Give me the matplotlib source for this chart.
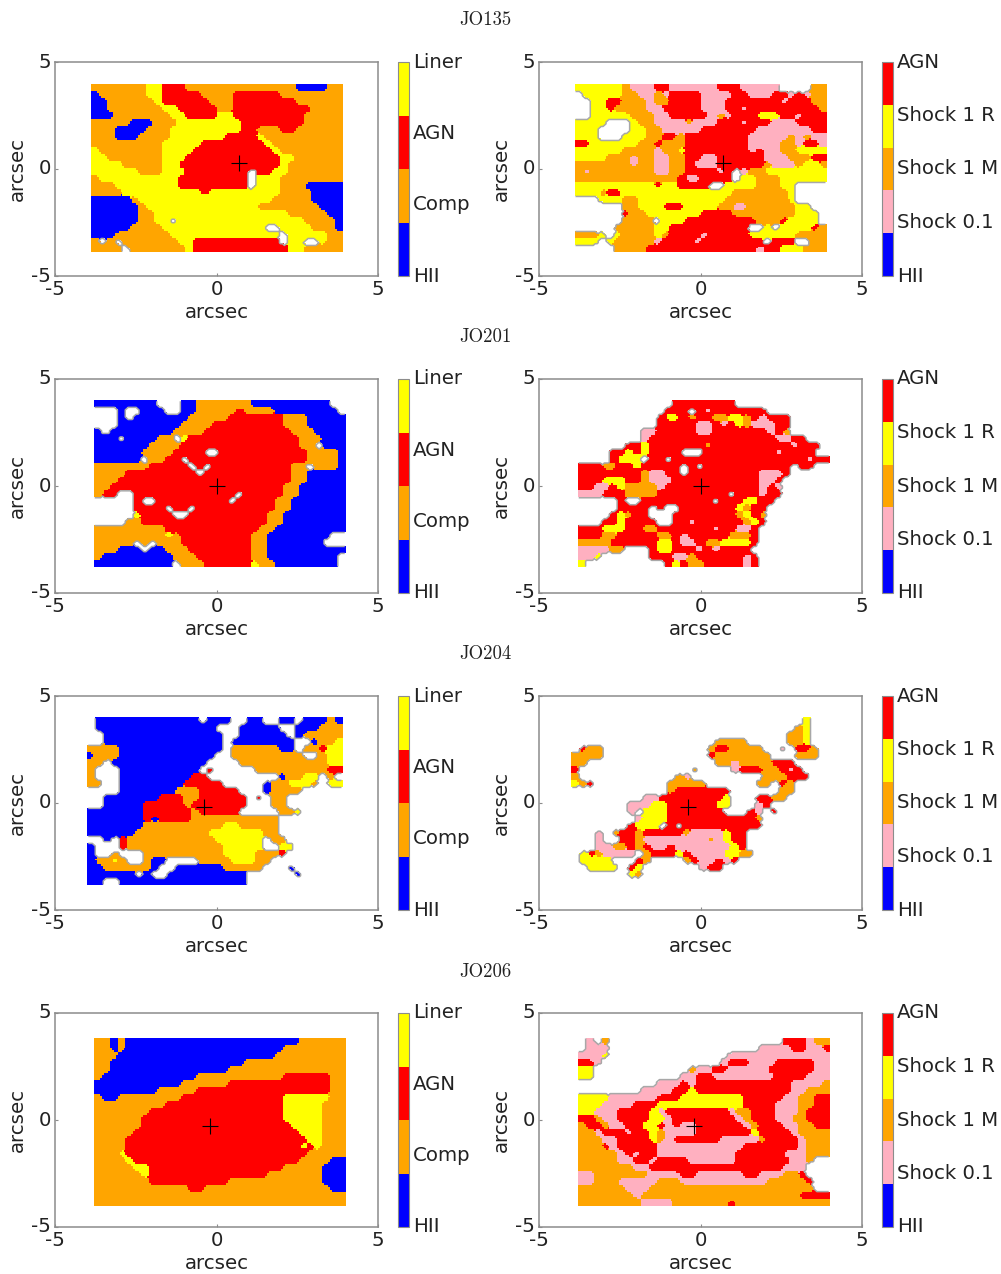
import numpy as np
import matplotlib
matplotlib.use("Agg")
import matplotlib.pyplot as plt
from matplotlib.colors import ListedColormap, Normalize
from matplotlib.cm import ScalarMappable
from matplotlib.transforms import ScaledTranslation

galaxies = ["JO135", "JO201", "JO204", "JO206"]
left_labels = ["HII", "Comp", "AGN", "Liner"]
right_labels = ["HII", "Shock 0.1", "Shock 1 M", "Shock 1 R", "AGN"]
left_colors = ["#0000FF", "#FFA500", "#FF0000", "#FFFF00"]
right_colors = ["#0000FF", "#FFB0C0", "#FFA500", "#FFFF00", "#FF0000"]
left_codes = {"B": 0, "O": 1, "R": 2, "Y": 3}
right_codes = {"B": 0, "P": 1, "O": 2, "Y": 3, "R": 4}
extents = [(-3.9, 3.9, -3.9, 3.95), (-3.8, 4.0, -3.8, 4.0), (-4.0, 3.9, -3.85, 4.0), (-3.8, 4.0, -4.0, 3.85)]
centres = [(0.7, 0.3), (0.0, 0.0), (-0.4, -0.2), (-0.2, -0.3)]

jo135_bpt = [
"OOOOOOOYYRRROOOOOOOOOOOOOOBBBBOO","BOOOOOOYYRRRRROOOORRRRRROOOOOOOO","BBOOOOOOYRRRRRROOORRRRRRRROOOOOO",
"BBOOOOOOOYYRRRRROORRRRRRRRRROOOO","BBBOOOOOOOYYRRRRYYRRRRRRRRROOOOO","OOOOOBBBOOOYYYYYYYYRRRRRRRROOOOO",
"OOOBBBBOOOYYYYYYYYYRROOORROOOOOO","OOOBBBOOOOYYYYYYYRRRRYOOOOOOOOOO","OOOOOOOOOYYYYYRRRRRRRRYOOOOOOOOO",
"YOOOOOOOOYYYYRRRRRRRRRRYOOOOOOOO","YYOOOOOOOYYYRRRRRRRRRRRRYYOOOOOO","YYYYOOOOOYYRRRRRRRRRRRRRYOOOOOOO",
"YYYYYYOOOYYYRRRRRRRR.RRYYOOOOOOO","OYYYYYYYYYYRRRRRRRRR.YYYOOOOOOOO","OOOYYYYYYYYRRRRRRRRR.YYYOOOBBBBB",
"OOOOYYYYYYYYYYRYYYYYYYYYOOOOBBBB","BBBBBOYYYYYYYYYYYYYYYYYOOOOOBBBB","BBBBBBOYYYYYYYYYYYYYYOOOOOOOOBBB",
"BBBBBBOOYYYYYYYYYYYYYYYYYOOOOOBB","BBBBBBOOYY.YYYYYYYYYYYYYYYYOOOOB","BBBBBOOOOYYYYYYYYYYYYY..YYYYOOOB",
"BBBOOOOOOOYYYYYYYYYYYYYY.YYYYYOO","O.O.OOOOOOOYYRRRRRRRRRRR.YY..YOO","OOOO.OOOOOOOYRRRRRRRRRRRRYYOOOOO",
]
jo135_shock = [
"YYYYYYOPPPRRPPPPPPRRRPPPPP....OO",".YYYYYOOPPOPRRRRPPPPRRPPPRRPRPOO","..YYRROOOPOORRRRPPPRRRRRRRPRRROO",
"..YYROOOOPPRRRRRPPPRRPRRRRRRRRRO","..YYYYYOOOPPRRRRRPOPRRRYYYRRPRRR","YYYY...YOOPPPPOPPPRRRPRRRPPPRRRR",
"YYY....YYOOPPPPPRRRRRRRPPPPPPPRR","YYY...YYYOORRORRRRRRRRPPPPPOPOPP","RRYYYYYYOOROOORRRRRRRRPPPPOOPRRP",
"YYYYYYOOOOPOOYRRRRRRRRPRPPOOYYYY","YYYYOOOPOOPPOORRPPRRRRRRPPPOOORR","OOOOOOOPOOPPOORPPPRRRRRROPPPOYYO",
"OPOOOOOOOOPPOORRRRPR.POOYYYYYYYY","OOOOOOOOOOOOORPPRRRR.YYOOOYYYYYY","YYYYYYYYYYRYYRRRR..YYYYOOOYY....",
"YYYORRYYYYYYYYYYYYYYOOOOOOOY....","...YYYOOYYYYYYYYYYYOOOOOOOOY....","......OOYYYRRRYYYYOOPPOOOOOOYY..",
"......ROOYYYYYYYRRRROOOOOOOOYYY.","......OOOO.YYYRRRRRRRRROOORYYYY.",".....OOOOOYYRRRRRRRRRR..Y.YYYYRO",
"OOOY.YOOOOYORRRRPRRRRRYYYYYYOOOO","YYY.YOOOOOPRRRRPRRRRRRRR.RRR..OO",".....OOOORRRRRRRRRRRRRRPRRYYYOOO",
]
jo201_bpt = [
"BBBBBBBB...BBOOOOOOOBBBBBBBBBB..","...B..BBB..BBOOOOOROOOOBBBBBBBB.","...B.BBBBBBBOOOOORRRRRRROOOBBBBB",
"...BBBBBBBBOOOORRRRRRRRROOOBBBBB","B.BBBBBBBBOOOORRRRRRRRRRROOOBBBB","BBB.BBBBOO.YRRRRRRRRRRRRRROOOBBB",
"BBBBBBBOOOORRRRRRRRRRRRRRROO.BBB","BBBBBBOOOORRRR..RRRRRRRRRRROOOOB","BBBBBB.OORR.RRRRRRRRRRRRRRROOOOB",
"OOOOOOORRRRR.R.RRRRRRRRRROO.OOOB","OOOORRRRRRRRR.RRRRRRRRRRROOBBBBB","OOORRRRRRRRRRRRRRRRRRRRRROOBBBBB",
"OORRRRRRRRRRRRRRRRRRRRRROOBBBBBB","ORR..RRRRRRRRRRRRR.RRRRROOBBBBBB",".....R..RRRRRRRRR.RRRRROOBBBBBBB",
".....RRRR.RR.RRRRRRRRRROOBBBBBBB",".....YRRRR..RRRRRRRRRROOBBBBBBBB","....OORRRRRRRRRRRRRRRROOBBBBBBBB",
"OOOOOOOOORRRRRRRRRRRROOBBBBBBBBB","OOOOOOOOOYORRRRRRRRROOBBBBBBBB..","OOOOO.O.OOORRRRRRRRROOBBBBBBB...",
"OOOBBB.BBOOORRRRRRRROOBBBBBBBBBB","OBBBBBBBBBOOORRRRRRROOBBBBBBBBB.","BBBBBBBBBB.OOORRRRRRYOOBBBBBBBB.",
]
jo201_shock = [
"............RRRRRRRR............","...........RRR.RPRRRRRRR........","..........RYYRORROOYYORPRRR.....",
"..........RRRRRPPRPRYOPPPRR.....","........PPRRRRRPPRRRRRRRPRO.....","........PRRRRRRRRRRRRRRRRPPRR...",
"......RRYRRRRRRRORRRRRRRRRRPRRR.","....RRYRYRRRR...RRRRRRRRRPRRRR..","....RYYY.RR.RRRRRRRRRRRRRRRRRPRR",
"RRROORRYRRRRR.R.RRRRRRRRRRR.RR..","RRRRRRRROPPRR.RRRRRRRRRPPPR.....","RRRYYYRROPPPRRRRRRRRRRRPPR......",
"RRPPRYOOOOPRRRRRRRRRRRRPRP......","PPPRRROOOORRRRRRRRR.RRRPRR......",".....R..RRRRRRRRR.RRRYYRR.......",
".....RRRR.R..RRRRRRRYORR........","....RYORR...RRRRRRRROYRO........","...RRYRRRR..RRPRRRRRROYR.........",
"RRRYYYRROORRRRRRRPRRPPR.........","RRROORRRRROORPRRRRROOOR.........","OOOORRRRRRYYRPPROOYYYYR.........",
"PPPPOO...RYYRRRPRPRRRR..........","PPY......RRRPPORRRRRRPR.........","Y..........RYROORRRRRPR.........",
]
jo204_bpt = [
".BBBBBBBBBBBBB.BBB..BB..BB.BBBOB",".BBBBBBBBBBBBBBB...BBBBB..BBBOOO","..BBBBBBBBBBBBBBB..BBBBBB.BOOOOO",
"..BBBBBBBBBBBBBBB.BBBBBBBB..BOOY","OOOOBBBBBBBBBBBBB.OOOOOOBB.OORYY","BOOOBBBBBBBBBBBB..OOOOOOOOO..OYY",
"OO.BBBBBBBBBBBB....OOOOOOOOOOOYY","O...BBBBBBBBBB.R.....OOOOOOOOORR","O...BBBBBBBBBRR.........BOOYY.O.",
"OO..BBBBBBBBRRRRR.....BOOYYYO.YY","....BBBBBBBOOORRRRR...BOOOO.....","..BBBBBBBRRROORRRRRR.R.OO.......",
"..BBBBBRRRRRORRRRRRR...OO.......","BBBBBBBRRRRRRORRRRR.....OOY.....","BBBBBBBRBRRRROOOOOOOOOOO........",
"BBBBBBBOOOOOOOOOOYYOOOOO........","BBBBBBOOOOOOOOOYYYYYYYOO........","..B.ROOOOOOOOOOOYYYYYY.OO.......",
"B...ROOOOOOOOOOOOYYYYY..YY......","B..O...OOOOOOOOOOYYYYOOOR.......","BOOYO..OBB....OOOOYYYOO.........",
"BBOOOOOOB..BBBBBBOOOOO...B......","BBBBBB.B..BBBBBBBBBB......B.....","BB..BBBBBBBBBBBBBBBB............",
]
jo204_shock = [
".............................Y..","............................OY..","...........................OOY..",
"..................OOOO.....OOY..",".ROO.............ORROOOO..P.RRO.","OOOO.............ROOOOOOO...OOO.",
"OO................OOPOOOORRR....","R..............O....PRRROORPR....","O............OP.........OOORRR..",
"YOR.........OOOOO......OO.RO....","............ORRRRRRR......OO....",".........PPRRRRRRRRY...RROO.....",
".......PPPYYRRRRRRYY...PR.......",".......P.YYYRRRRRRR...RP.R......","........PYYYRRRRRRRRRRRO........",
".......RYYY.R.RRRRRRRRRR........","...P.ORRORRRRROPPPPYRR..........","...P..RROPPPPPPPPOPYRR..........",
"...PPOORORPPRPPPPPPPYR..........",".YROPPPP.ORRRYRPPPPYYOO.........",".YYYY...RO....ORPPRPR...........",
"..YYYY.RY.......PRR.............",".......YO.......................","................................",
]
jo206_bpt = [
"OOBOBBBBBBBBBBBBBBBBBBBBBBOOOOOO","OOBOBBBBBBBBBBBBBBBBBBBBOOOOOOOO","OOOBBBBBBBBBBBBBBBBBBBBOOOOOOOOO",
"OOBBBBBBBBBBBBBBBBBOOOOOOOOOOOOO","OOBBBBBBBBBBBBBBBOOOOOOOOOOOOOOO","OBBBBBBBBBBBBOOOOOOOOOOORRRRRROO",
"BBBBBBBBBBBOOOOOORRRRRRRRRRRRROO","BBBBBBBBOOOOORRRRRRRRRRRRRRRRROO","OBBOOOOOOOORRRRRRRRRRRRRYYYYYYOO",
"OOOOOOOOORRRRRRRRRRRRRRRYYYYYOOO","OOOOOOORRRRRRRRRRRRRRRRRYYYYYOOO","OOOOOORRRRRRRRRRRRRRRRRRYYYYYOOO",
"OOOOOORRRRRRRRRRRRRRRRRRRYYYYOOO","OOOOORRRRRRRRRRRRRRRRRRRRRYYYOOO","OOOORRRRRRRRRRRRRRRRRRRRRRRYYOOO",
"OOOORRRRRRRRRRRRRRRRRRRRRRYRYOOO","OOOYRRRRRRRRRRRRRRRRRRRRRRROOOOO","OOOOYRRRRRRRRRRRRRRRRRRRRROOOOBB",
"OOOOOYYRRRRRRRRRRRRRRRRROOOOOBBB","OOOOOOYRRRRRRRRRRRRRRROOOOOOOBBB","OOOOOOORRRRRRRRRROOOOOOOOOOOOBBB",
"OOOOOOOOOOOORROOOOOOOOOOOOOOOOBB","OOOOOOOOOOOOOOOOOOOOOOOOOOOOOOOO","OOOOOOOOOOOOOOOOOOOOOOOOOOOOOOOO",
]
jo206_shock = [
".P.O......................RRRPOO",".PPP...................PPPPRRPPR","PPPY...............PPPPPPPPPPPPP",
"RRP...............PRRRPPPRRRRRPP","YY............OPPRRPPPPPRRRRRRPP","YY...........PPRRPPPPPPPPRRRRPPP",
"..........PPPRPRRRRRRRRRRRRPPPPO","........PPPPRRYRRRRRRRRRRRRPPOOO","YYYYPPPPPPRRRYYYYYYYYRRRRRPPOORR",
"YYYPPPPRRRYYYYYYYYYYYRRRRPPPOORR","YYPPPRRRRYPRRRRRRRRPOORRRPPPORRR","RROPPRRRRYYPRRRRRRRRPORRRPPOORRR",
"ORROPPRRYYRPRPPRRRRRRPORRRPPOORR","OOPRRRPRRYOPPPPRRRRRRRYRRRRPOOOO","OOOPPRRRRYOPRRRRRRPPPPPORRRRPOOO",
"OOORPRRRRRPPPPPPPPPPPRRRRRRRPOOO","OOOOOPRPRRPPPPPPPPPPRRRRRRPPPOOO","OOOOOPPRRPRRRRPPPPPPRRRRRRRPPO..",
"OOOOOOOPPRRRRRRRRRRRRRRRRRPPP...","PPOOOOOOOPPPPRRPPPPPPRRPPPOOR...","PPOOOPPPPPOOOPPPPPPPPPPPOOOOOR..",
"OOOOOOPPPOOOOOOOOOOOOOOOOOOOOO..","OOOOOOOPOOOOOOOOOOOOOOOOOOOORRRR","OOOOOOOOPPPPOOOOOOOROOOOOOOOOOOO",
]
bpt_maps = [jo135_bpt, jo201_bpt, jo204_bpt, jo206_bpt]
shock_maps = [jo135_shock, jo201_shock, jo204_shock, jo206_shock]

W, H = 1001, 1274
TEXT = "#222222"
GREY = "#8c8c8c"
FS = 14.2
UP = 4          # sub-cells per grid cell when the class map is redrawn
SIGMA = 1.7     # rounding of the class borders, in sub-cells
plt.rcParams.update({"font.family": "DejaVu Sans", "font.size": FS, "axes.unicode_minus": False})
fig = plt.figure(figsize=(W / 100, H / 100), dpi=100)


def decode(rows, codes):
    out = np.full((len(rows), 32), -1, dtype=int)
    for i, row in enumerate(rows):
        for j, ch in enumerate(row.ljust(32, ".")[:32]):
            if ch in codes:
                out[i, j] = codes[ch]
    return out


def round_classes(grid, n):
    """Round the blocky class borders: the most likely class under a small blur."""
    fine = np.kron(grid, np.ones((UP, UP), dtype=int))
    t = np.arange(-5, 6)
    kern = np.exp(-0.5 * (t / SIGMA) ** 2)
    kern /= kern.sum()
    layers = []
    for c in range(-1, n):
        a = np.pad((fine == c).astype(float), 5, mode="edge")
        a = np.apply_along_axis(lambda v: np.convolve(v, kern, mode="same"), 0, a)
        a = np.apply_along_axis(lambda v: np.convolve(v, kern, mode="same"), 1, a)
        layers.append(a[5:-5, 5:-5])
    return np.argmax(np.array(layers), axis=0) - 1


def rect(x0, y0, x1, y1):
    return [x0 / W, 1 - y1 / H, (x1 - x0) / W, (y1 - y0) / H]


def panel(x0, y0, rows, codes, colors, labels, ext, cen):
    ax = fig.add_axes(rect(x0, y0, x0 + 323, y0 + 214))
    grid = round_classes(decode(rows, codes), len(colors))
    cmap = ListedColormap(colors)
    ax.imshow(np.ma.masked_less(grid, 0), cmap=cmap, vmin=-0.5, vmax=len(colors) - 0.5,
              extent=ext, origin="upper", interpolation="nearest", aspect="auto")
    ny, nx = grid.shape
    xs = ext[0] + (np.arange(nx) + 0.5) * (ext[1] - ext[0]) / nx
    ys = ext[3] - (np.arange(ny) + 0.5) * (ext[3] - ext[2]) / ny
    ax.contour(xs, ys, (grid >= 0).astype(float), levels=[0.5], colors="#a8a8a8", linewidths=1.1)
    ax.plot([cen[0]], [cen[1]], marker="+", ms=12, mew=0.8, color="black", ls="none")
    ax.set_xlim(-5, 5)
    ax.set_ylim(-5, 5)
    ax.set_xticks([-5, 0, 5])
    ax.set_yticks([-5, 0, 5])
    ax.tick_params(direction="in", length=2.5, width=0.8, color=GREY, labelsize=FS, labelcolor=TEXT, pad=3)
    shift = ScaledTranslation(0, 2 / 100, fig.dpi_scale_trans)
    for lab in ax.get_yticklabels():
        lab.set_transform(lab.get_transform() + shift)
    for s in ax.spines.values():
        s.set_color(GREY)
        s.set_linewidth(1.1)
    ax.set_xlabel("arcsec", fontsize=FS, color=TEXT, labelpad=2.5)
    ax.set_ylabel("arcsec", fontsize=FS, color=TEXT)
    ax.yaxis.set_label_coords(-28 / 323, 0.5)

    cax = fig.add_axes(rect(x0 + 343, y0, x0 + 354, y0 + 214))
    sm = ScalarMappable(norm=Normalize(0, len(colors)), cmap=cmap)
    cb = fig.colorbar(sm, cax=cax, ticks=np.linspace(0, len(colors), len(labels)))
    cb.ax.set_yticklabels(labels, fontsize=FS, color=TEXT)
    cb.ax.tick_params(length=0, pad=3)
    lift = ScaledTranslation(0, 2 / 100, fig.dpi_scale_trans)
    for lab in cb.ax.get_yticklabels():
        lab.set_transform(lab.get_transform() + lift)
    cb.outline.set_edgecolor(GREY)
    cb.outline.set_linewidth(0.8)


tops = [62, 379, 696, 1013]
title_y = [19, 336, 653, 971]
for k, name in enumerate(galaxies):
    panel(55, tops[k], bpt_maps[k], left_codes, left_colors, left_labels, extents[k], centres[k])
    panel(539, tops[k], shock_maps[k], right_codes, right_colors, right_labels, extents[k], centres[k])
    fig.text(485 / W, 1 - (title_y[k] + 1) / H, name, family=["cmr10", "DejaVu Serif"], fontsize=13.5,
             color=TEXT, ha="center", va="center")

fig.savefig("out.png", dpi=100)
